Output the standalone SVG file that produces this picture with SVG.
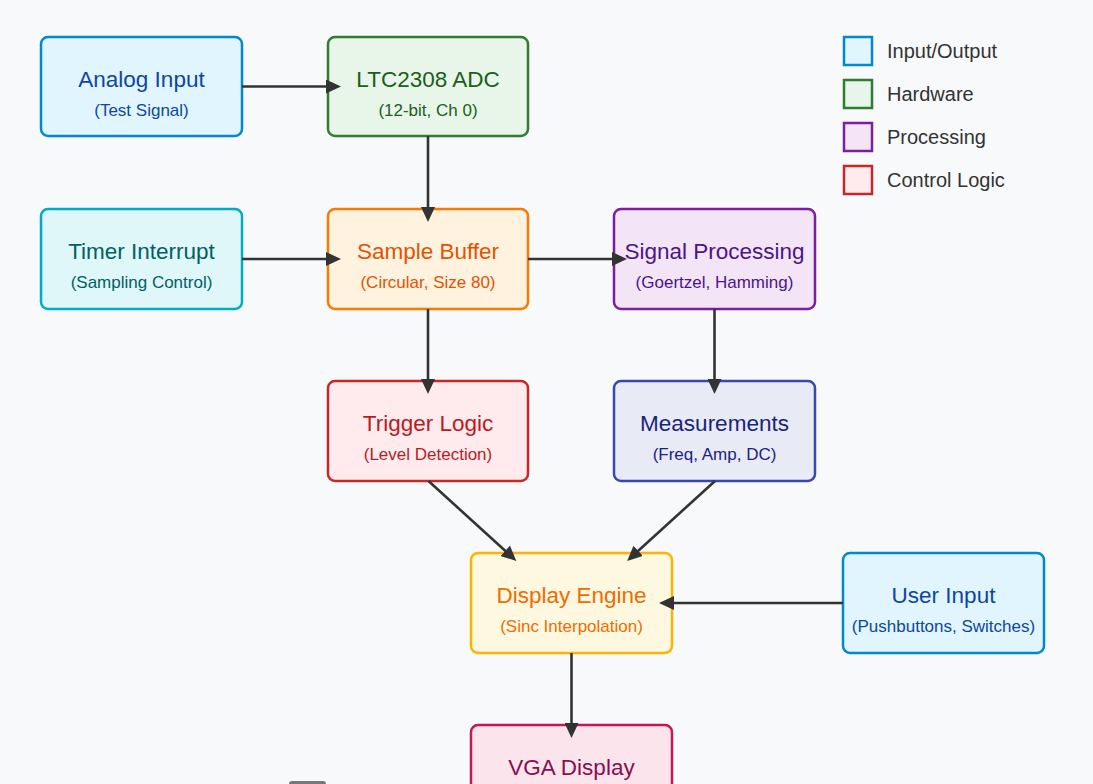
<svg xmlns="http://www.w3.org/2000/svg" width="1093" height="784" viewBox="0 0 1093 784">
<style>
.box{stroke-width:2.5}
.t{font-family:"Liberation Sans",Arial,sans-serif;font-size:22.5px;text-anchor:middle}
.s{font-family:"Liberation Sans",Arial,sans-serif;font-size:17px;text-anchor:middle}
.lg{font-family:"Liberation Sans",Arial,sans-serif;font-size:20px;fill:#333}
.c{stroke:#333;stroke-width:2.6;fill:none;marker-end:url(#ah)}
</style>
<defs>
<marker id="ah" markerUnits="userSpaceOnUse" markerWidth="16" markerHeight="14" refX="1" refY="7" orient="auto">
<path d="M0,0 L15,7 L0,14 z" fill="#333"/>
</marker>
</defs>
<rect width="1093" height="784" fill="#f8f9fa"/>
<g id="legend">
<rect x="844" y="37" width="28" height="28" fill="#e1f5fe" stroke="#0288d1" stroke-width="2.5"/>
<text class="lg" x="887" y="58">Input/Output</text>
<rect x="844" y="80" width="28" height="28" fill="#e8f5e9" stroke="#2e7d32" stroke-width="2.5"/>
<text class="lg" x="887" y="101">Hardware</text>
<rect x="844" y="123" width="28" height="28" fill="#f3e5f5" stroke="#7b1fa2" stroke-width="2.5"/>
<text class="lg" x="887" y="144">Processing</text>
<rect x="844" y="166" width="28" height="28" fill="#ffebee" stroke="#c62828" stroke-width="2.5"/>
<text class="lg" x="887" y="187">Control Logic</text>
</g>
<g id="analog-input">
<rect class="box" x="41" y="37" width="201" height="99" rx="7" fill="#e1f5fe" stroke="#0288d1"/>
<text class="t" x="141.5" y="87" fill="#0d47a1">Analog Input</text>
<text class="s" x="141.5" y="116" fill="#0d47a1">(Test Signal)</text>
</g>
<g id="ltc2308-adc">
<rect class="box" x="328" y="37" width="200" height="99" rx="7" fill="#e8f5e9" stroke="#2e7d32"/>
<text class="t" x="428" y="87" fill="#1b5e20">LTC2308 ADC</text>
<text class="s" x="428" y="116" fill="#1b5e20">(12-bit, Ch 0)</text>
</g>
<g id="timer-interrupt">
<rect class="box" x="41" y="209" width="201" height="100" rx="7" fill="#e0f7fa" stroke="#00acc1"/>
<text class="t" x="141.5" y="259" fill="#006064">Timer Interrupt</text>
<text class="s" x="141.5" y="288" fill="#006064">(Sampling Control)</text>
</g>
<g id="sample-buffer">
<rect class="box" x="328" y="209" width="200" height="100" rx="7" fill="#fff3e0" stroke="#f57c00"/>
<text class="t" x="428" y="259" fill="#e65100">Sample Buffer</text>
<text class="s" x="428" y="288" fill="#e65100">(Circular, Size 80)</text>
</g>
<g id="signal-processing">
<rect class="box" x="614" y="209" width="201" height="100" rx="7" fill="#f3e5f5" stroke="#7b1fa2"/>
<text class="t" x="714.5" y="259" fill="#4a148c">Signal Processing</text>
<text class="s" x="714.5" y="288" fill="#4a148c">(Goertzel, Hamming)</text>
</g>
<g id="trigger-logic">
<rect class="box" x="328" y="381" width="200" height="100" rx="7" fill="#ffebee" stroke="#c62828"/>
<text class="t" x="428" y="431" fill="#b71c1c">Trigger Logic</text>
<text class="s" x="428" y="460" fill="#b71c1c">(Level Detection)</text>
</g>
<g id="measurements">
<rect class="box" x="614" y="381" width="201" height="100" rx="7" fill="#e8eaf6" stroke="#3949ab"/>
<text class="t" x="714.5" y="431" fill="#1a237e">Measurements</text>
<text class="s" x="714.5" y="460" fill="#1a237e">(Freq, Amp, DC)</text>
</g>
<g id="display-engine">
<rect class="box" x="471" y="553" width="201" height="100" rx="7" fill="#fff8e1" stroke="#ffb300"/>
<text class="t" x="571.5" y="603" fill="#ef6c00">Display Engine</text>
<text class="s" x="571.5" y="632" fill="#ef6c00">(Sinc Interpolation)</text>
</g>
<g id="user-input">
<rect class="box" x="843" y="553" width="201" height="100" rx="7" fill="#e1f5fe" stroke="#0288d1"/>
<text class="t" x="943.5" y="603" fill="#0d47a1">User Input</text>
<text class="s" x="943.5" y="632" fill="#0d47a1">(Pushbuttons, Switches)</text>
</g>
<g id="vga-display">
<rect class="box" x="471" y="725" width="201" height="100" rx="7" fill="#fce4ec" stroke="#c2185b"/>
<text class="t" x="571.5" y="775" fill="#880e4f">VGA Display</text>
</g>
<g id="connectors">
<line class="c" x1="242" y1="86.5" x2="327" y2="86.5"/>
<line class="c" x1="428" y1="136" x2="428" y2="208"/>
<line class="c" x1="242" y1="259" x2="327" y2="259"/>
<line class="c" x1="528" y1="259" x2="613" y2="259"/>
<line class="c" x1="428" y1="309" x2="428" y2="380"/>
<line class="c" x1="714.5" y1="309" x2="714.5" y2="380"/>
<line class="c" x1="428.5" y1="481" x2="506" y2="551.5"/>
<line class="c" x1="715" y1="481" x2="637.5" y2="551.5"/>
<line class="c" x1="843" y1="603" x2="673" y2="603"/>
<line class="c" x1="571.5" y1="653" x2="571.5" y2="724"/>
</g>
<rect x="289" y="781" width="37" height="8" rx="3" fill="#777"/>
</svg>
